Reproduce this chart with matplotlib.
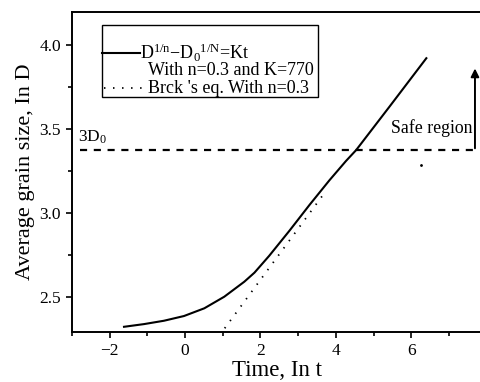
import numpy as np
import matplotlib.pyplot as plt
from matplotlib.patches import Rectangle
from matplotlib.ticker import MultipleLocator

plt.rcParams['font.family'] = 'Liberation Serif'
plt.rcParams['mathtext.fontset'] = 'stix'
plt.rcParams['mathtext.default'] = 'regular'

# grain growth law D^(1/n) - D0^(1/n) = Kt, n=0.3, K=770
curve_t = [-1.62, -1.09, -0.56, -0.03, 0.51, 1.04, 1.57, 1.84, 2.23, 2.77, 3.30,
           3.83, 4.27, 4.54, 5.43, 6.40]
curve_lnD = [2.323, 2.339, 2.359, 2.387, 2.433, 2.502, 2.591, 2.645, 2.745, 2.895,
             3.048, 3.195, 3.31, 3.375, 3.635, 3.921]

# Burke's equation, n=0.3
breck_t = [1.05, 2.0, 3.0, 3.7]
breck_lnD = [2.314, 2.603, 2.907, 3.12]

# critical size 3*D0
level_3d0 = 3.375
safe_x = 7.69
safe_top = 3.86

fig = plt.figure(figsize=(4.81, 3.82), dpi=100)
ax = fig.add_axes([72 / 481, 1 - 332 / 382, 1 - 72 / 481, 320 / 382])

dots = (0, (0.8, 4.2))
ax.plot(curve_t, curve_lnD, color='k', lw=1.5, solid_joinstyle='round')
ax.plot(breck_t, breck_lnD, color='k', lw=1.3, linestyle=dots)
ax.plot([6.27], [3.286], 'k.', ms=2)

ax.plot([-2.8, 7.75], [level_3d0, level_3d0], color='k', lw=1.6,
        linestyle=(0, (3.2, 3.0)))
ax.text(-2.85, level_3d0 + 0.025, '3D$_0$', fontsize=12.5, va='bottom', ha='left')

ax.annotate('', xy=(safe_x, safe_top), xytext=(safe_x, level_3d0 + 0.01),
            arrowprops=dict(arrowstyle='-|>', color='k', lw=1.4,
                            mutation_scale=12, shrinkA=0, shrinkB=0))
ax.text(safe_x - 0.06, 3.505, 'Safe region', fontsize=12.8, ha='right', va='center')

ax.set_xlim(-3.0, 7.85)
ax.set_ylim(2.292, 4.196)
ax.xaxis.set_major_locator(MultipleLocator(2))
ax.xaxis.set_minor_locator(MultipleLocator(1))
ax.yaxis.set_major_locator(MultipleLocator(0.5))
ax.yaxis.set_minor_locator(MultipleLocator(0.25))
ax.tick_params(which='both', direction='out', width=1.2, labelsize=12.5)
ax.tick_params(which='major', length=4, pad=4)
ax.tick_params(which='minor', length=3)
ax.spines['right'].set_visible(False)
for s in ['left', 'bottom', 'top']:
    ax.spines[s].set_linewidth(1.4)

ax.set_xlabel('Time, In t', fontsize=16.5, labelpad=1)
ax.set_ylabel('Average grain size, In D', fontsize=16, labelpad=3)

# legend box
tr = ax.transAxes
ax.add_patch(Rectangle((0.073, 0.734), 0.528, 0.225, transform=tr, fill=False,
                       ec='k', lw=1.0, zorder=5))
ax.plot([0.073, 0.166], [0.872, 0.872], transform=tr, color='k', lw=1.5)
ax.text(0.166, 0.872, 'D$^{1/n}$\u2212D$_0$$^{1/N}$=Kt', transform=tr,
        fontsize=13, va='center', ha='left')
ax.text(0.185, 0.817, 'With n=0.3 and K=770', transform=tr,
        fontsize=13, va='center', ha='left')
ax.plot([0.078, 0.178], [0.762, 0.762], transform=tr, color='k', lw=1.3,
        linestyle=dots)
ax.text(0.185, 0.762, "Brck 's eq. With n=0.3", transform=tr,
        fontsize=13, va='center', ha='left')

fig.savefig('out.png', dpi=100)
